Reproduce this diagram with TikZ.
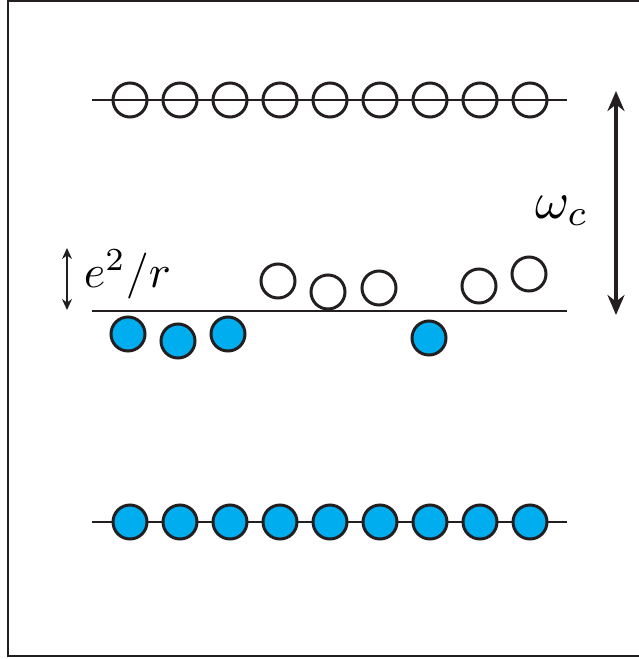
\documentclass[tikz,border=0pt]{standalone}
\usetikzlibrary{arrows.meta}

\definecolor{ink}{RGB}{35,31,32}
\definecolor{electron}{RGB}{0,174,239}

\begin{document}
\begin{tikzpicture}[x=1pt,y=-1pt,
  hole/.style={circle,draw=ink,line width=3pt,minimum size=34pt,inner sep=0pt},
  full/.style={hole,fill=electron},
  level/.style={ink,line width=2.6pt},
  biglabel/.style={anchor=base west,inner sep=0pt,font=\fontsize{10}{12}\selectfont},
  bigarrow/.style={ink,line width=3.6pt,{Stealth[length=20pt,width=17pt]}-{Stealth[length=20pt,width=17pt]}},
  smallarrow/.style={ink,line width=1.8pt,{Stealth[length=11pt,width=10pt]}-{Stealth[length=11pt,width=10pt]}}]
\useasboundingbox (0,0) rectangle (639,659);
\draw[ink,line width=1.4pt] (641,1) -- (8,1) -- (8,656) -- (641,656);

% upper level, empty
\coordinate (up l) at (92,100);
\coordinate (up r) at (567,100);
\draw[level] (up l) -- (up r);
\foreach \i in {1,...,9}
  \node[hole] (up\i) at (80+50*\i,100) {};

% partly filled level
\coordinate (mid l) at (92,311);
\coordinate (mid r) at (567,311);
\draw[level] (mid l) -- (mid r);
\foreach \n/\x/\y in {a/278/281, b/328/292, c/379/288, d/479/286, e/529/274}
  \node[hole,fill=white] (hole\n) at (\x,\y) {};
\foreach \n/\x/\y in {a/128/334, b/178/341, c/228/334, d/429/338}
  \node[full] (elec\n) at (\x,\y) {};

% lower level, filled
\coordinate (low l) at (92,522);
\coordinate (low r) at (567,522);
\draw[level] (low l) -- (low r);
\foreach \i in {1,...,9}
  \node[full] (low\i) at (80+50*\i,522) {};

% gaps
\coordinate (wc top) at (616,91);
\coordinate (wc bot) at (616,315);
\draw[bigarrow] (wc top) -- (wc bot);
\node[biglabel,scale=5.2] (wc) at (534,218) {$\omega_c$};

\coordinate (er top) at (67,248);
\coordinate (er bot) at (67,310);
\draw[smallarrow] (er top) -- (er bot);
\node[biglabel,scale=4.6] (er) at (83,287) {$e^{\mathrm{2}}/r$};
\end{tikzpicture}
\end{document}
